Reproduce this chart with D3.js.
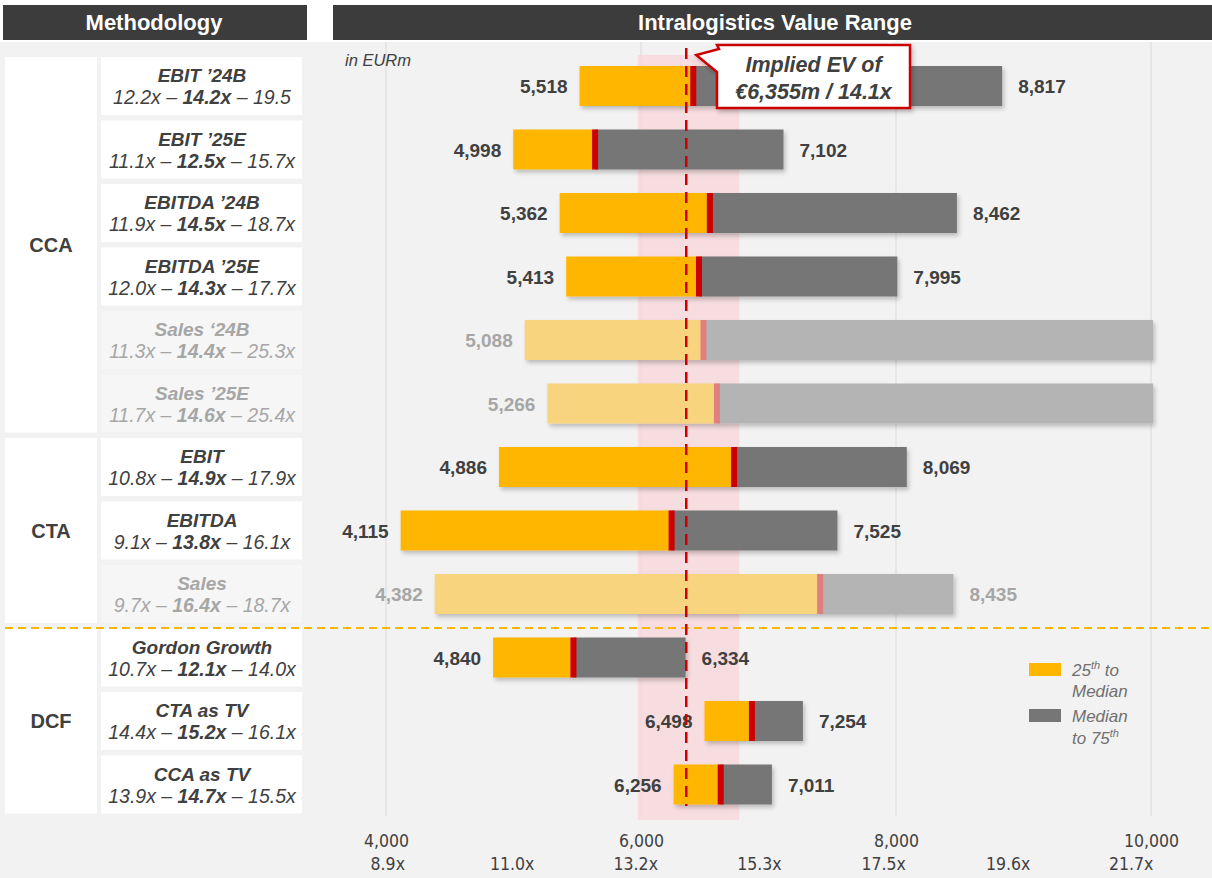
<!DOCTYPE html>
<html>
<head>
<meta charset="utf-8">
<script src="https://cdn.jsdelivr.net/npm/d3@7"></script>
<style>
  body { margin: 0; background: #fff; }
  svg { font-family: "Liberation Sans", Arial, sans-serif; }
</style>
</head>
<body>
<div id="chart"></div>
<script>
// data
const groups = ["CCA", "CTA", "DCF"];
const groupRows = [[0, 5], [6, 8], [9, 11]];
const methods = ["EBIT \u201924B", "EBIT \u201925E", "EBITDA \u201924B", "EBITDA \u201925E",
  "Sales \u201824B", "Sales \u201925E", "EBIT", "EBITDA", "Sales",
  "Gordon Growth", "CTA as TV", "CCA as TV"];
const multLow = ["12.2x", "11.1x", "11.9x", "12.0x", "11.3x", "11.7x", "10.8x", "9.1x", "9.7x", "10.7x", "14.4x", "13.9x"];
const multMid = ["14.2x", "12.5x", "14.5x", "14.3x", "14.4x", "14.6x", "14.9x", "13.8x", "16.4x", "12.1x", "15.2x", "14.7x"];
const multHigh = ["19.5", "15.7x", "18.7x", "17.7x", "25.3x", "25.4x", "17.9x", "16.1x", "18.7x", "14.0x", "16.1x", "15.5x"];
const lows = [5518, 4998, 5362, 5413, 5088, 5266, 4886, 4115, 4382, 4840, 6498, 6256];
const medians = [6410, 5640, 6540, 6455, 6490, 6595, 6730, 6240, 7405, 5470, 6870, 6625];
const highs = [8817, 7102, 8462, 7995, 11390, 11430, 8069, 7525, 8435, 6334, 7254, 7011];
const faded = [false, false, false, false, true, true, false, false, true, false, false, false];
const evTicks = [4000, 6000, 8000, 10000];
const multTicks = ["8.9x", "11.0x", "13.2x", "15.3x", "17.5x", "19.6x", "21.7x"];
const multTickEV = [4010, 4985, 5955, 6925, 7900, 8875, 9840];
const impliedEV = 6355;
const impliedMult = "14.1x";
const focusRange = [5975, 6770];

const rowsData = methods.map((m, i) => ({
  i, name: m, lo: lows[i], mid: medians[i], hi: highs[i], faded: faded[i],
  mLo: multLow[i], mMid: multMid[i], mHi: multHigh[i]
}));

const W = 1212, H = 878;
const svg = d3.select("#chart").append("svg")
  .attr("width", W).attr("height", H);

const defs = svg.append("defs");
const sh = defs.append("filter").attr("id", "shadow")
  .attr("x", "-10%").attr("y", "-30%").attr("width", "130%").attr("height", "180%");
sh.append("feDropShadow").attr("dx", 2).attr("dy", 3).attr("stdDeviation", 2)
  .attr("flood-color", "#000").attr("flood-opacity", 0.22);

const x = d3.scaleLinear().domain([4000, 10000]).range([386, 1151]);
const y = d3.scaleBand().domain(d3.range(methods.length)).range([54.25, 816.25]);
const barH = 40;
const dark = "#404040", grey = "#a6a6a6";

// backgrounds and headers
svg.append("rect").attr("x", 0).attr("y", 42).attr("width", W).attr("height", H - 42).attr("fill", "#f2f2f2");
svg.append("rect").attr("x", 3).attr("y", 5).attr("width", 304).attr("height", 35).attr("fill", "#3c3c3c");
svg.append("rect").attr("x", 333).attr("y", 5).attr("width", W - 333).attr("height", 35).attr("fill", "#3c3c3c");
svg.append("text").attr("x", 154).attr("y", 30).attr("text-anchor", "middle")
  .attr("fill", "#fff").attr("font-weight", "bold").attr("font-size", 22).text("Methodology");
svg.append("text").attr("x", 775).attr("y", 30).attr("text-anchor", "middle")
  .attr("fill", "#fff").attr("font-weight", "bold").attr("font-size", 22).text("Intralogistics Value Range");

// grid lines
svg.append("g").selectAll("line").data(evTicks).join("line")
  .attr("x1", d => x(d)).attr("x2", d => x(d))
  .attr("y1", 42).attr("y2", 816)
  .attr("stroke", "#e2e2e2").attr("stroke-width", 1.5);

// focus band
svg.append("rect").attr("x", x(focusRange[0])).attr("y", 55)
  .attr("width", x(focusRange[1]) - x(focusRange[0])).attr("height", 765)
  .attr("fill", "#f8d7da").attr("opacity", 0.8);

svg.append("text").attr("x", 345).attr("y", 66).attr("font-size", 16.5)
  .attr("font-style", "italic").attr("fill", dark).text("in EURm");

// group boxes
groups.forEach((g, i) => {
  const top = y(groupRows[i][0]) + 2.75;
  const bot = y(groupRows[i][1]) + y.bandwidth() - 2.75;
  svg.append("rect").attr("x", 5).attr("y", top).attr("width", 92).attr("height", bot - top).attr("fill", "#fff");
  svg.append("text").attr("x", 51).attr("y", (top + bot) / 2 + 7).attr("text-anchor", "middle")
    .attr("font-weight", "bold").attr("font-size", 20).attr("fill", dark).text(g);
});

// method boxes
const rows = svg.append("g").selectAll("g").data(rowsData).join("g")
  .attr("transform", d => `translate(0,${y(d.i)})`);
rows.append("rect").attr("x", 101).attr("y", 2.75).attr("width", 201).attr("height", y.bandwidth() - 5.5)
  .attr("fill", d => d.faded ? "#f6f6f6" : "#fff");
rows.append("text").attr("x", 202).attr("y", 28).attr("text-anchor", "middle")
  .attr("font-weight", "bold").attr("font-style", "italic").attr("font-size", 19)
  .attr("fill", d => d.faded ? grey : dark).text(d => d.name);
const sub = rows.append("text").attr("x", 202).attr("y", 50).attr("text-anchor", "middle")
  .attr("font-style", "italic").attr("font-size", 19.5)
  .attr("fill", d => d.faded ? grey : dark);
sub.append("tspan").text(d => d.mLo + " \u2013 ");
sub.append("tspan").attr("font-weight", "bold").text(d => d.mMid);
sub.append("tspan").text(d => " \u2013 " + d.mHi);

// bars
const bars = svg.append("g").selectAll("g").data(rowsData).join("g")
  .attr("transform", d => `translate(0,${y(d.i) + y.bandwidth() / 2 - barH / 2})`)
  .attr("filter", "url(#shadow)");
bars.append("rect").attr("x", d => x(d.lo)).attr("height", barH)
  .attr("width", d => x(d.mid) - x(d.lo))
  .attr("fill", d => d.faded ? "#f9d47e" : "#ffb600");
bars.append("rect").attr("x", d => x(d.mid)).attr("height", barH)
  .attr("width", d => x(Math.min(d.hi, 10000)) - x(d.mid) + 2)
  .attr("fill", d => d.faded ? "#b4b4b5" : "#767677");
bars.append("rect").attr("x", d => x(d.mid) - 3).attr("height", barH).attr("width", 6)
  .attr("fill", d => d.faded ? "#e07f7f" : "#cc0000");

// value labels
const fmt = d3.format(",");
const vals = svg.append("g").selectAll("g").data(rowsData).join("g")
  .attr("transform", d => `translate(0,${y(d.i) + y.bandwidth() / 2 + 7})`)
  .attr("font-weight", "bold").attr("font-size", 19)
  .attr("fill", d => d.faded ? grey : dark);
vals.append("text").attr("x", d => x(d.lo) - 12).attr("text-anchor", "end")
  .text(d => fmt(d.lo));
vals.filter(d => d.hi <= 10000).append("text")
  .attr("x", d => x(d.hi) + 18)
  .text(d => fmt(d.hi));

// DCF separator
svg.append("line").attr("x1", 5).attr("x2", W).attr("y1", 628).attr("y2", 628)
  .attr("stroke", "#ffb600").attr("stroke-width", 2).attr("stroke-dasharray", "8,5");

// implied EV line
svg.append("line").attr("x1", x(impliedEV)).attr("x2", x(impliedEV)).attr("y1", 48).attr("y2", 806)
  .attr("stroke", "#cc0000").attr("stroke-width", 2.5).attr("stroke-dasharray", "11,7");

// callout
const cx0 = 717, cy0 = 45, cw = 193, ch = 63;
svg.append("path")
  .attr("d", `M${cx0},${cy0} H${cx0 + cw} V${cy0 + ch} H${cx0} V${cy0 + 27} L${x(impliedEV) + 10},${cy0 + 10} L${cx0 + 2},${cy0 + 4} Z`)
  .attr("fill", "#fff").attr("stroke", "#cc0000").attr("stroke-width", 2.5)
  .attr("filter", "url(#shadow)");
svg.append("text").attr("x", cx0 + cw / 2).attr("y", cy0 + 27).attr("text-anchor", "middle")
  .attr("font-weight", "bold").attr("font-style", "italic").attr("font-size", 21.5).attr("fill", dark)
  .text("Implied EV of");
svg.append("text").attr("x", cx0 + cw / 2).attr("y", cy0 + 54).attr("text-anchor", "middle")
  .attr("font-weight", "bold").attr("font-style", "italic").attr("font-size", 21.5).attr("fill", dark)
  .text("\u20ac" + fmt(impliedEV) + "m / " + impliedMult);

// legend
const legend = svg.append("g").attr("font-style", "italic").attr("font-size", 17).attr("fill", "#707070");
legend.append("rect").attr("x", 1029).attr("y", 663).attr("width", 32).attr("height", 13).attr("fill", "#ffb600");
legend.append("rect").attr("x", 1029).attr("y", 709).attr("width", 32).attr("height", 13).attr("fill", "#767677");
const l1 = legend.append("text").attr("x", 1072).attr("y", 676);
l1.append("tspan").text("25");
l1.append("tspan").attr("font-size", 11).attr("dy", -7).text("th");
l1.append("tspan").attr("dy", 7).text(" to");
legend.append("text").attr("x", 1072).attr("y", 697).text("Median");
legend.append("text").attr("x", 1072).attr("y", 722).text("Median");
const l2 = legend.append("text").attr("x", 1072).attr("y", 744);
l2.append("tspan").text("to 75");
l2.append("tspan").attr("font-size", 11).attr("dy", -7).text("th");

// axes
const axisFont = "'Liberation Sans Narrow', 'Arial Narrow', 'DejaVu Sans Condensed', sans-serif";
const evAxis = svg.append("g").attr("transform", "translate(0,832)")
  .call(d3.axisBottom(x).tickValues(evTicks).tickSize(0).tickFormat(fmt));
const multAxis = svg.append("g").attr("transform", "translate(0,855)")
  .call(d3.axisBottom(x).tickValues(multTickEV).tickSize(0).tickFormat((d, i) => multTicks[i]));
[evAxis, multAxis].forEach(a => {
  a.select(".domain").remove();
  a.selectAll("text").attr("font-family", axisFont).attr("font-size", 17.5).attr("fill", dark);
});
</script>
</body>
</html>
